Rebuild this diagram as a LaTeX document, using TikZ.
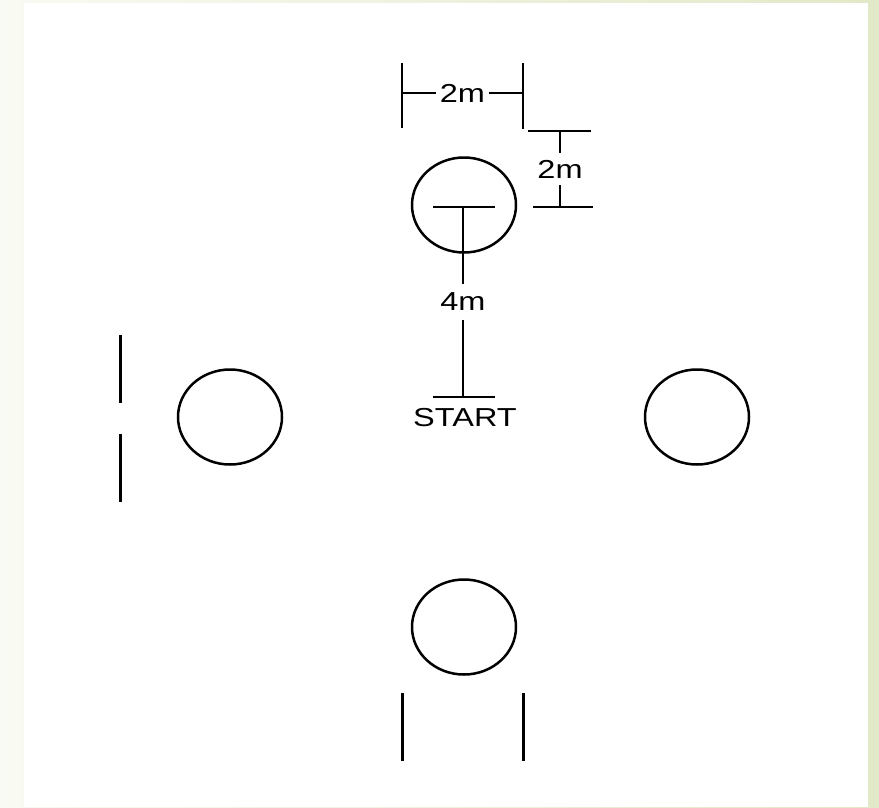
\documentclass[tikz,border=0pt]{standalone}
\usepackage{fontspec}
\setmainfont{Liberation Sans}[FakeStretch=1.25]
\usetikzlibrary{shapes.geometric}
\definecolor{frameL}{HTML}{F9FAF3}
\definecolor{frameR}{HTML}{E1E9C8}

\begin{document}
\begin{tikzpicture}[
  x=1pt, y=-1pt,
  font=\fontsize{26}{30}\selectfont,
  cone/.style={draw, ellipse, line width=2.5pt, minimum width=104pt, minimum height=95pt, inner sep=0pt},
  gate/.style={line width=3pt},
  dim/.style={line width=2.6pt},
  lbl/.style={fill=white, inner xsep=4pt, inner ysep=9pt}
]
\shade[left color=frameL, right color=frameR] (0,0) rectangle (879,807);
\fill[white] (24,3) rectangle (868,807);

% cones
\node[cone] (top) at (464,205) {};
\node[cone] (left) at (230,417) {};
\node[cone] (right) at (697,417) {};
\node[cone] (bottom) at (464,627) {};

% gates
\coordinate (la1) at (120,335); \coordinate (la2) at (120,403);
\coordinate (lb1) at (120,434); \coordinate (lb2) at (120,502);
\coordinate (ba1) at (402,693); \coordinate (ba2) at (402,761);
\coordinate (bb1) at (523,693); \coordinate (bb2) at (523,761);
\draw[gate] (la1) -- (la2);
\draw[gate] (lb1) -- (lb2);
\draw[gate] (ba1) -- (ba2);
\draw[gate] (bb1) -- (bb2);

% 2m across
\coordinate (wl1) at (402,63); \coordinate (wl2) at (402,128);
\coordinate (wr1) at (523,63); \coordinate (wr2) at (523,129);
\draw[dim] (wl1) -- (wl2);
\draw[dim] (wr1) -- (wr2);
\draw[dim] (402,93) coordinate (wl) -- node[lbl] (wlbl) {2m} (523,93) coordinate (wr);

% 2m down
\coordinate (ht1) at (528,131); \coordinate (ht2) at (591,131);
\coordinate (hb1) at (533,207); \coordinate (hb2) at (593,207);
\draw[dim] (ht1) -- (ht2);
\draw[dim] (hb1) -- (hb2);
\draw[dim] (560,131) coordinate (ht) -- node[lbl, inner ysep=7pt] (hlbl) {2m} (560,207) coordinate (hb);

% 4m to start
\coordinate (tl) at (433,207); \coordinate (tr) at (495,207);
\coordinate (sl) at (433,397); \coordinate (sr) at (495,397);
\draw[dim] (tl) -- (tr);
\draw[dim] (sl) -- (sr);
\draw[dim] (463,207) coordinate (tm) -- node[lbl] (dlbl) {4m} (463,397) coordinate (sm);
\node (start) at (465,418) {START};
\end{tikzpicture}
\end{document}
